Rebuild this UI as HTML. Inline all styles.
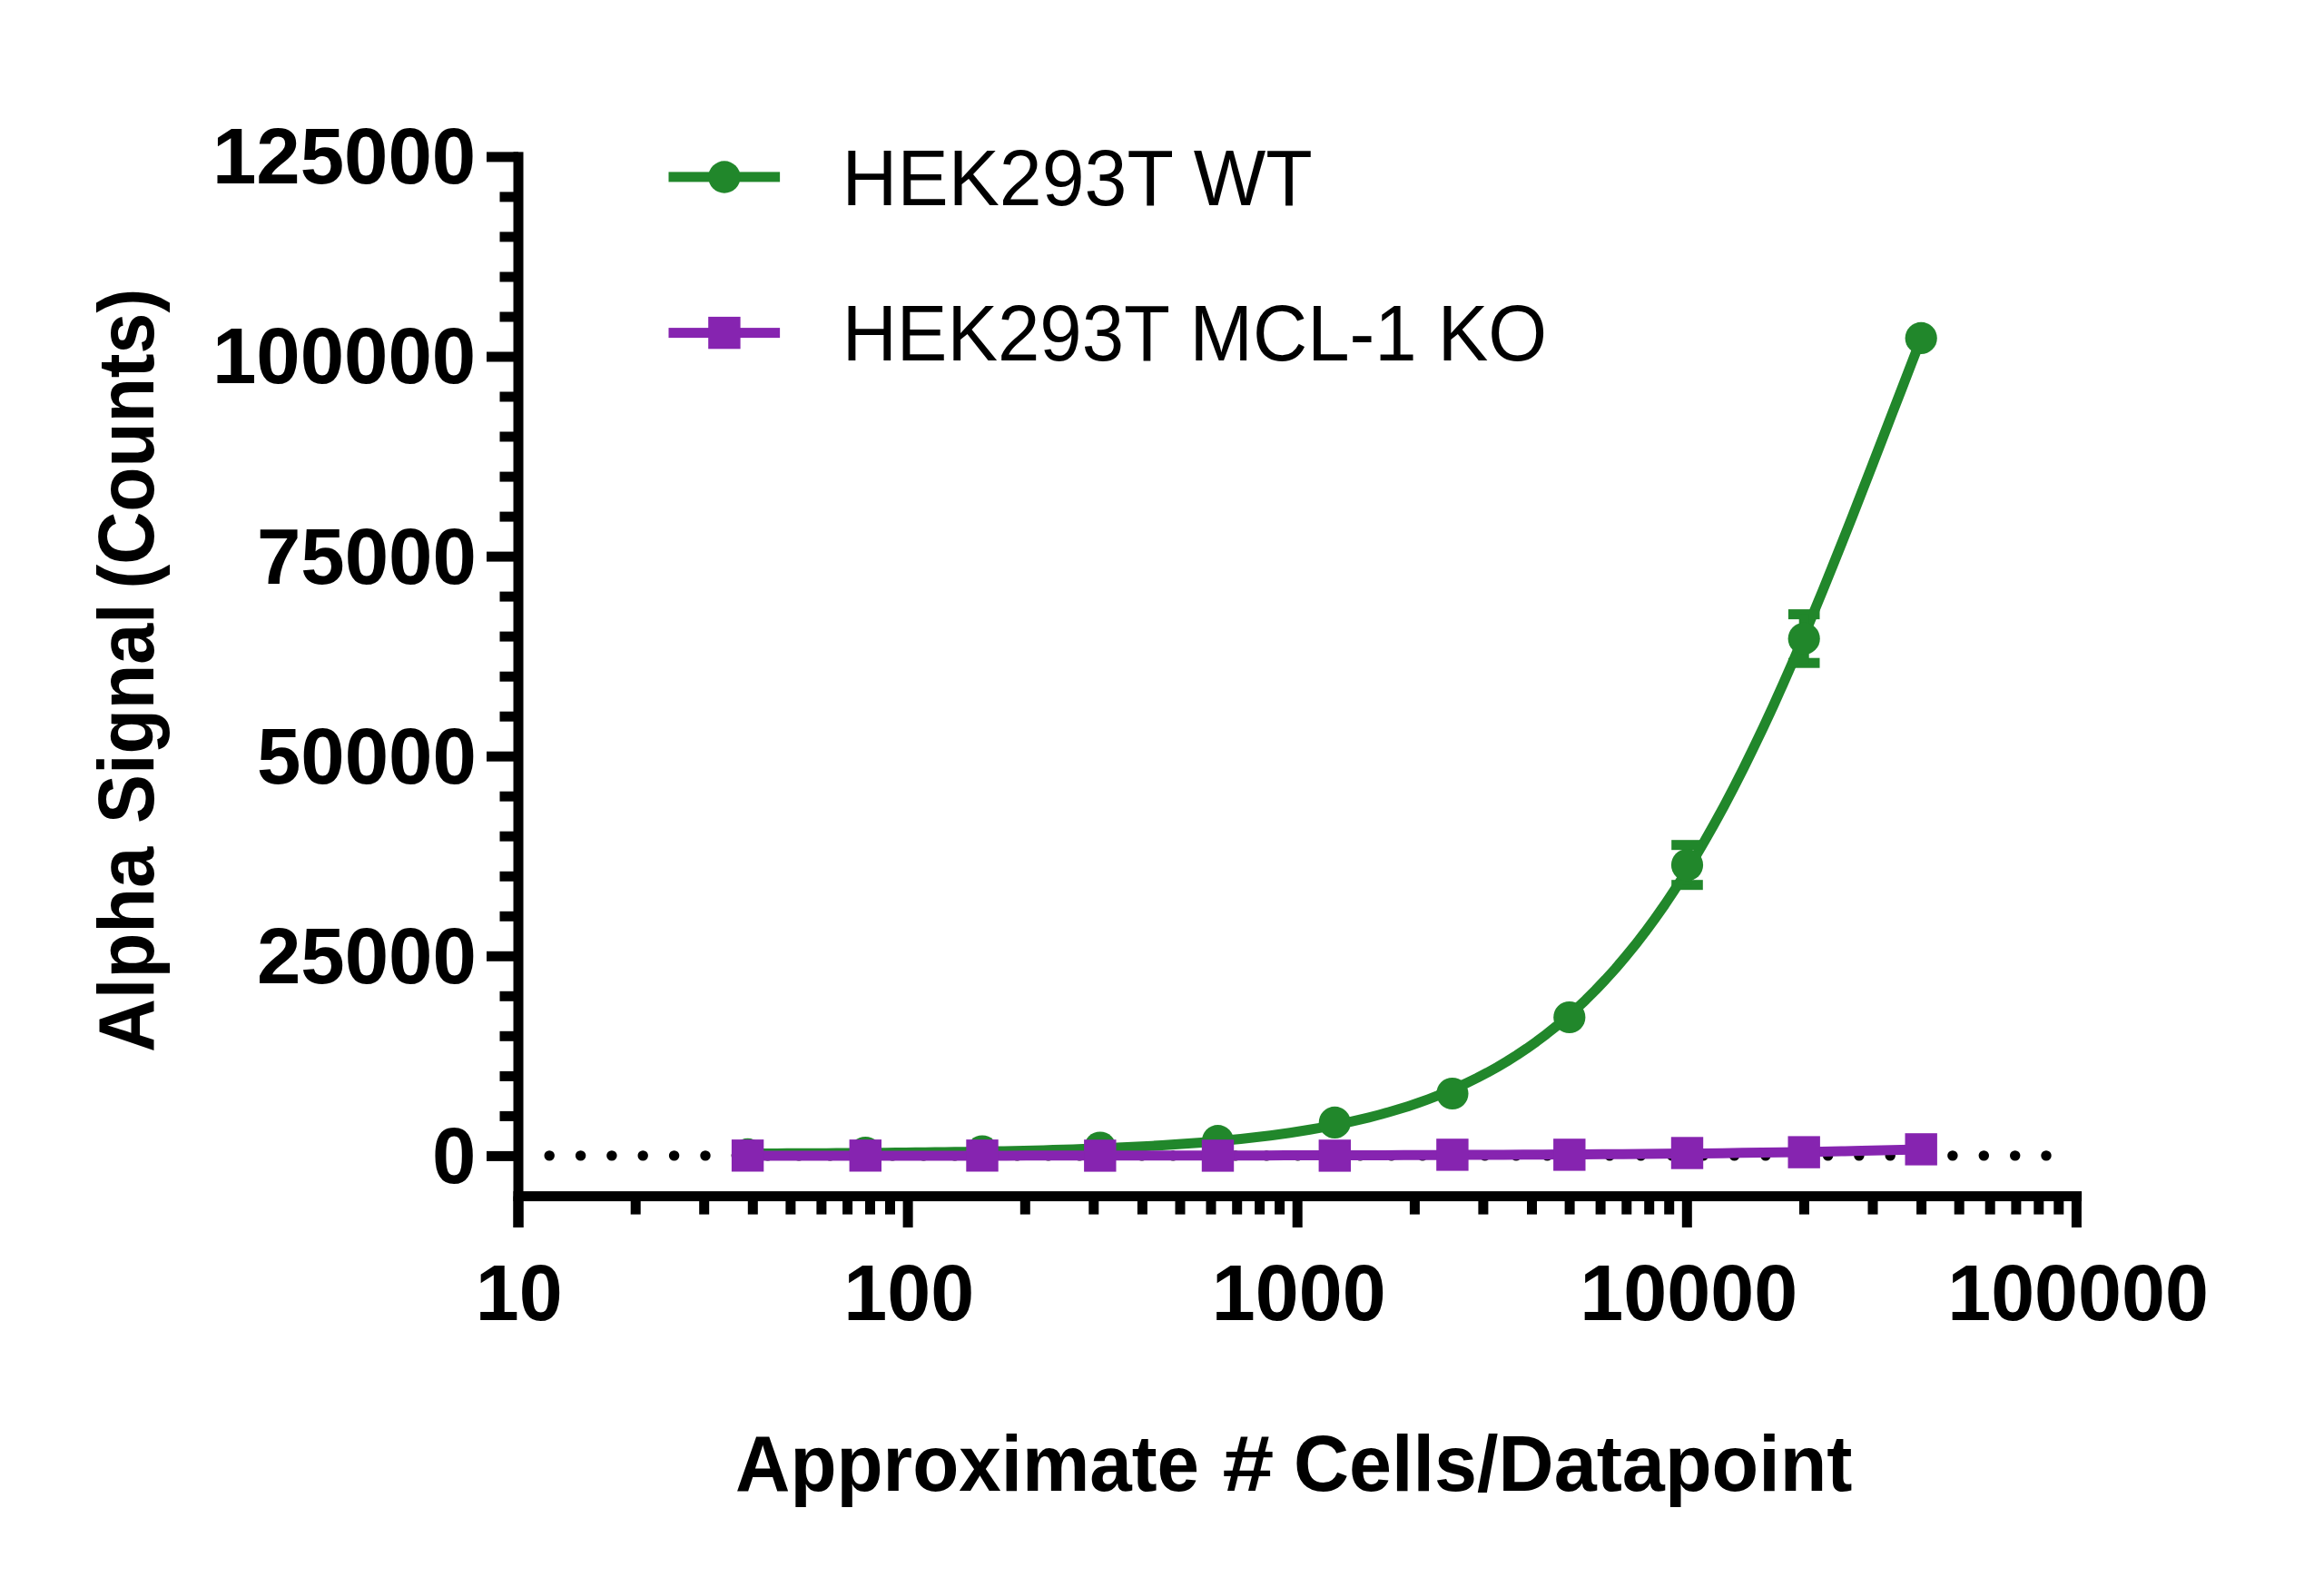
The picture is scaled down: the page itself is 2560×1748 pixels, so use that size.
<!DOCTYPE html>
<html lang="en"><head><meta charset="utf-8"><title>Alpha Signal vs Cells/Datapoint</title>
<style>html,body{margin:0;padding:0;background:#fff}body{width:2560px;height:1748px;overflow:hidden}svg{display:block}text{font-family:"Liberation Sans",Arial,Helvetica,sans-serif;fill:#000}.tk{font-weight:700;font-size:87px}.lg{font-size:88px}.ti{font-weight:700;font-size:87px}</style></head><body>
<svg width="2560" height="1748" viewBox="0 0 2560 1748">
<rect width="2560" height="1748" fill="#fff"/>
<g fill="#000">
<circle cx="605.2" cy="1272.9" r="5.7"/>
<circle cx="639.6" cy="1272.9" r="5.7"/>
<circle cx="673.9" cy="1272.9" r="5.7"/>
<circle cx="708.2" cy="1272.9" r="5.7"/>
<circle cx="742.6" cy="1272.9" r="5.7"/>
<circle cx="777.0" cy="1272.9" r="5.7"/>
<circle cx="811.3" cy="1272.9" r="5.7"/>
<circle cx="845.7" cy="1272.9" r="5.7"/>
<circle cx="880.0" cy="1272.9" r="5.7"/>
<circle cx="914.4" cy="1272.9" r="5.7"/>
<circle cx="948.7" cy="1272.9" r="5.7"/>
<circle cx="983.1" cy="1272.9" r="5.7"/>
<circle cx="1017.4" cy="1272.9" r="5.7"/>
<circle cx="1051.8" cy="1272.9" r="5.7"/>
<circle cx="1086.1" cy="1272.9" r="5.7"/>
<circle cx="1120.5" cy="1272.9" r="5.7"/>
<circle cx="1154.8" cy="1272.9" r="5.7"/>
<circle cx="1189.2" cy="1272.9" r="5.7"/>
<circle cx="1223.5" cy="1272.9" r="5.7"/>
<circle cx="1257.8" cy="1272.9" r="5.7"/>
<circle cx="1292.2" cy="1272.9" r="5.7"/>
<circle cx="1326.6" cy="1272.9" r="5.7"/>
<circle cx="1360.9" cy="1272.9" r="5.7"/>
<circle cx="1395.2" cy="1272.9" r="5.7"/>
<circle cx="1429.6" cy="1272.9" r="5.7"/>
<circle cx="1464.0" cy="1272.9" r="5.7"/>
<circle cx="1498.3" cy="1272.9" r="5.7"/>
<circle cx="1532.7" cy="1272.9" r="5.7"/>
<circle cx="1567.0" cy="1272.9" r="5.7"/>
<circle cx="1601.4" cy="1272.9" r="5.7"/>
<circle cx="1635.7" cy="1272.9" r="5.7"/>
<circle cx="1670.1" cy="1272.9" r="5.7"/>
<circle cx="1704.4" cy="1272.9" r="5.7"/>
<circle cx="1738.8" cy="1272.9" r="5.7"/>
<circle cx="1773.1" cy="1272.9" r="5.7"/>
<circle cx="1807.5" cy="1272.9" r="5.7"/>
<circle cx="1841.8" cy="1272.9" r="5.7"/>
<circle cx="1876.2" cy="1272.9" r="5.7"/>
<circle cx="1910.5" cy="1272.9" r="5.7"/>
<circle cx="1944.9" cy="1272.9" r="5.7"/>
<circle cx="1979.2" cy="1272.9" r="5.7"/>
<circle cx="2013.6" cy="1272.9" r="5.7"/>
<circle cx="2047.9" cy="1272.9" r="5.7"/>
<circle cx="2082.2" cy="1272.9" r="5.7"/>
<circle cx="2116.6" cy="1272.9" r="5.7"/>
<circle cx="2150.9" cy="1272.9" r="5.7"/>
<circle cx="2185.3" cy="1272.9" r="5.7"/>
<circle cx="2219.7" cy="1272.9" r="5.7"/>
<circle cx="2254.0" cy="1272.9" r="5.7"/>
</g>
<g fill="#000">
<rect x="565.5" y="167.4" width="11.0" height="1184.6"/>
<rect x="565.5" y="1312.1" width="1727.6" height="11.0"/>
<rect x="536" y="1267.9" width="35.0" height="11.0"/>
<rect x="550.5" y="1223.9" width="20.5" height="11.0"/>
<rect x="550.5" y="1179.9" width="20.5" height="11.0"/>
<rect x="550.5" y="1135.8" width="20.5" height="11.0"/>
<rect x="550.5" y="1091.8" width="20.5" height="11.0"/>
<rect x="536" y="1047.8" width="35.0" height="11.0"/>
<rect x="550.5" y="1003.8" width="20.5" height="11.0"/>
<rect x="550.5" y="959.8" width="20.5" height="11.0"/>
<rect x="550.5" y="915.7" width="20.5" height="11.0"/>
<rect x="550.5" y="871.7" width="20.5" height="11.0"/>
<rect x="536" y="827.7" width="35.0" height="11.0"/>
<rect x="550.5" y="783.7" width="20.5" height="11.0"/>
<rect x="550.5" y="739.7" width="20.5" height="11.0"/>
<rect x="550.5" y="695.6" width="20.5" height="11.0"/>
<rect x="550.5" y="651.6" width="20.5" height="11.0"/>
<rect x="536" y="607.6" width="35.0" height="11.0"/>
<rect x="550.5" y="563.6" width="20.5" height="11.0"/>
<rect x="550.5" y="519.6" width="20.5" height="11.0"/>
<rect x="550.5" y="475.5" width="20.5" height="11.0"/>
<rect x="550.5" y="431.5" width="20.5" height="11.0"/>
<rect x="536" y="387.5" width="35.0" height="11.0"/>
<rect x="550.5" y="343.5" width="20.5" height="11.0"/>
<rect x="550.5" y="299.5" width="20.5" height="11.0"/>
<rect x="550.5" y="255.4" width="20.5" height="11.0"/>
<rect x="550.5" y="211.4" width="20.5" height="11.0"/>
<rect x="536" y="167.4" width="35.0" height="11.0"/>
<rect x="565.5" y="1317.6" width="11.0" height="34.4"/>
<rect x="694.7" y="1317.6" width="11.0" height="20.0"/>
<rect x="770.2" y="1317.6" width="11.0" height="20.0"/>
<rect x="823.8" y="1317.6" width="11.0" height="20.0"/>
<rect x="865.4" y="1317.6" width="11.0" height="20.0"/>
<rect x="899.4" y="1317.6" width="11.0" height="20.0"/>
<rect x="928.1" y="1317.6" width="11.0" height="20.0"/>
<rect x="953.0" y="1317.6" width="11.0" height="20.0"/>
<rect x="975.0" y="1317.6" width="11.0" height="20.0"/>
<rect x="994.6" y="1317.6" width="11.0" height="34.4"/>
<rect x="1123.8" y="1317.6" width="11.0" height="20.0"/>
<rect x="1199.3" y="1317.6" width="11.0" height="20.0"/>
<rect x="1252.9" y="1317.6" width="11.0" height="20.0"/>
<rect x="1294.5" y="1317.6" width="11.0" height="20.0"/>
<rect x="1328.5" y="1317.6" width="11.0" height="20.0"/>
<rect x="1357.2" y="1317.6" width="11.0" height="20.0"/>
<rect x="1382.1" y="1317.6" width="11.0" height="20.0"/>
<rect x="1404.1" y="1317.6" width="11.0" height="20.0"/>
<rect x="1423.7" y="1317.6" width="11.0" height="34.4"/>
<rect x="1552.9" y="1317.6" width="11.0" height="20.0"/>
<rect x="1628.4" y="1317.6" width="11.0" height="20.0"/>
<rect x="1682.0" y="1317.6" width="11.0" height="20.0"/>
<rect x="1723.6" y="1317.6" width="11.0" height="20.0"/>
<rect x="1757.6" y="1317.6" width="11.0" height="20.0"/>
<rect x="1786.3" y="1317.6" width="11.0" height="20.0"/>
<rect x="1811.2" y="1317.6" width="11.0" height="20.0"/>
<rect x="1833.2" y="1317.6" width="11.0" height="20.0"/>
<rect x="1852.8" y="1317.6" width="11.0" height="34.4"/>
<rect x="1982.0" y="1317.6" width="11.0" height="20.0"/>
<rect x="2057.5" y="1317.6" width="11.0" height="20.0"/>
<rect x="2111.1" y="1317.6" width="11.0" height="20.0"/>
<rect x="2152.7" y="1317.6" width="11.0" height="20.0"/>
<rect x="2186.7" y="1317.6" width="11.0" height="20.0"/>
<rect x="2215.4" y="1317.6" width="11.0" height="20.0"/>
<rect x="2240.3" y="1317.6" width="11.0" height="20.0"/>
<rect x="2262.3" y="1317.6" width="11.0" height="20.0"/>
<rect x="2281.9" y="1317.6" width="11.0" height="34.4"/>
</g>
<text class="tk" x="475.9" y="1302.8" textLength="48.4" lengthAdjust="spacingAndGlyphs">0</text>
<text class="tk" x="282.9" y="1082.7" textLength="241.9" lengthAdjust="spacingAndGlyphs">25000</text>
<text class="tk" x="282.9" y="862.6" textLength="241.9" lengthAdjust="spacingAndGlyphs">50000</text>
<text class="tk" x="282.9" y="642.5" textLength="241.9" lengthAdjust="spacingAndGlyphs">75000</text>
<text class="tk" x="233.9" y="422.4" textLength="290.3" lengthAdjust="spacingAndGlyphs">100000</text>
<text class="tk" x="233.9" y="202.3" textLength="290.3" lengthAdjust="spacingAndGlyphs">125000</text>
<text class="tk" x="523.8" y="1454.3" textLength="95.9" lengthAdjust="spacingAndGlyphs">10</text>
<text class="tk" x="929.3" y="1454.3" textLength="143.9" lengthAdjust="spacingAndGlyphs">100</text>
<text class="tk" x="1334.8" y="1454.3" textLength="191.8" lengthAdjust="spacingAndGlyphs">1000</text>
<text class="tk" x="1740.3" y="1454.3" textLength="239.8" lengthAdjust="spacingAndGlyphs">10000</text>
<text class="tk" x="2145.2" y="1454.3" textLength="287.7" lengthAdjust="spacingAndGlyphs">100000</text>
<text class="lg" x="927.6" y="225.5" textLength="518.2" lengthAdjust="spacingAndGlyphs">HEK293T WT</text>
<text class="lg" x="927.7" y="397.3" textLength="776.5" lengthAdjust="spacingAndGlyphs">HEK293T MCL-1 KO</text>
<text class="tk" x="810.1" y="1641.5" textLength="511.0" lengthAdjust="spacingAndGlyphs">Approximate</text>
<text class="tk" x="1346.6" y="1641.5" textLength="56.8" lengthAdjust="spacingAndGlyphs">#</text>
<text class="tk" x="1425.0" y="1641.5" textLength="615.5" lengthAdjust="spacingAndGlyphs">Cells/Datapoint</text>
<g transform="translate(169.3,1156.2) rotate(-90)">
<text class="tk" x="-2.8" y="0.0" textLength="226.4" lengthAdjust="spacingAndGlyphs">Alpha</text>
<text class="tk" x="249.2" y="0.0" textLength="242.6" lengthAdjust="spacingAndGlyphs">Signal</text>
<text class="tk" x="507.6" y="0.0" textLength="330.8" lengthAdjust="spacingAndGlyphs">(Counts)</text>
</g>
<g fill="#21872b" stroke="none">
<path d="M823.6,1270.52 L834.5,1270.49 L845.3,1270.45 L856.2,1270.40 L867.0,1270.36 L877.9,1270.31 L888.8,1270.25 L899.6,1270.20 L910.5,1270.14 L921.4,1270.07 L932.2,1270.00 L943.1,1269.93 L953.9,1269.85 L964.8,1269.76 L975.7,1269.67 L986.5,1269.57 L997.4,1269.46 L1008.3,1269.35 L1019.1,1269.23 L1030.0,1269.10 L1040.8,1268.96 L1051.7,1268.81 L1062.6,1268.65 L1073.4,1268.48 L1084.3,1268.29 L1095.2,1268.10 L1106.0,1267.88 L1116.9,1267.66 L1127.7,1267.41 L1138.6,1267.15 L1149.5,1266.88 L1160.3,1266.58 L1171.2,1266.26 L1182.1,1265.91 L1192.9,1265.55 L1203.8,1265.15 L1214.6,1264.73 L1225.5,1264.28 L1236.4,1263.80 L1247.2,1263.28 L1258.1,1262.72 L1268.9,1262.13 L1279.8,1261.49 L1290.7,1260.81 L1301.5,1260.08 L1312.4,1259.30 L1323.3,1258.46 L1334.1,1257.57 L1345.0,1256.61 L1355.8,1255.58 L1366.7,1254.48 L1377.6,1253.30 L1388.4,1252.04 L1399.3,1250.70 L1410.2,1249.26 L1421.0,1247.71 L1431.9,1246.06 L1442.7,1244.30 L1453.6,1242.41 L1464.5,1240.39 L1475.3,1238.24 L1486.2,1235.93 L1497.1,1233.47 L1507.9,1230.83 L1518.8,1228.02 L1529.6,1225.02 L1540.5,1221.81 L1551.4,1218.39 L1562.2,1214.74 L1573.1,1210.85 L1584.0,1206.69 L1594.8,1202.27 L1605.7,1197.55 L1616.5,1192.53 L1627.4,1187.18 L1638.3,1181.49 L1649.1,1175.43 L1660.0,1168.99 L1670.9,1162.16 L1681.7,1154.89 L1692.6,1147.19 L1703.4,1139.01 L1714.3,1130.35 L1725.2,1121.17 L1736.0,1111.47 L1746.9,1101.20 L1757.7,1090.36 L1768.6,1078.91 L1779.5,1066.85 L1790.3,1054.14 L1801.2,1040.76 L1812.1,1026.71 L1822.9,1011.96 L1833.8,996.49 L1844.6,980.29 L1855.5,963.36 L1866.4,945.68 L1877.2,927.26 L1888.1,908.08 L1899.0,888.14 L1909.8,867.47 L1920.7,846.06 L1931.5,823.93 L1942.4,801.09 L1953.3,777.58 L1964.1,753.42 L1975.0,728.64 L1985.9,703.29 L1996.7,677.40 L2007.6,651.02 L2018.4,624.20 L2029.3,597.00 L2040.2,569.47 L2051.0,541.69 L2061.9,513.70 L2072.8,485.58 L2083.6,457.40 L2094.5,429.21 L2105.3,401.10 L2116.2,373.12" fill="none" stroke="#21872b" stroke-width="11" stroke-linejoin="round"/>
<rect x="1969.9" y="671.1" width="34.6" height="11"/>
<rect x="1969.9" y="724.7" width="34.6" height="11"/>
<rect x="1981.7" y="676.6" width="11" height="53.6"/>
<rect x="1841.2" y="925.2" width="34.6" height="11"/>
<rect x="1841.2" y="969.2" width="34.6" height="11"/>
<rect x="1853.0" y="930.7" width="11" height="44.0"/>
<circle cx="2116.2" cy="372.4" r="17.6"/>
<circle cx="1987.2" cy="703.4" r="17.6"/>
<circle cx="1858.5" cy="952.7" r="17.6"/>
<circle cx="1728.8" cy="1120.5" r="17.6"/>
<circle cx="1599.9" cy="1204.5" r="17.6"/>
<circle cx="1470.3" cy="1236.4" r="17.6"/>
<circle cx="1341.5" cy="1256.7" r="17.6"/>
<circle cx="1211.8" cy="1264.0" r="17.6"/>
<circle cx="1082.0" cy="1268.1" r="17.6"/>
<circle cx="953.3" cy="1269.5" r="17.6"/>
<circle cx="823.6" cy="1271.4" r="17.6"/>
</g>
<g fill="#8624b0" stroke="none">
<path d="M823.6,1272.96 L845.5,1272.96 L867.4,1272.95 L889.3,1272.95 L911.2,1272.94 L933.1,1272.94 L955.1,1272.94 L977.0,1272.93 L998.9,1272.92 L1020.8,1272.92 L1042.7,1272.91 L1064.6,1272.90 L1086.5,1272.89 L1108.4,1272.88 L1130.3,1272.87 L1152.2,1272.86 L1174.1,1272.85 L1196.0,1272.84 L1218.0,1272.82 L1239.9,1272.81 L1261.8,1272.79 L1283.7,1272.77 L1305.6,1272.75 L1327.5,1272.72 L1349.4,1272.70 L1371.3,1272.67 L1393.2,1272.64 L1415.1,1272.61 L1437.0,1272.57 L1458.9,1272.53 L1480.9,1272.48 L1502.8,1272.44 L1524.7,1272.38 L1546.6,1272.33 L1568.5,1272.26 L1590.4,1272.19 L1612.3,1272.12 L1634.2,1272.03 L1656.1,1271.94 L1678.0,1271.84 L1699.9,1271.73 L1721.8,1271.61 L1743.8,1271.48 L1765.7,1271.34 L1787.6,1271.18 L1809.5,1271.01 L1831.4,1270.82 L1853.3,1270.61 L1875.2,1270.39 L1897.1,1270.14 L1919.0,1269.87 L1940.9,1269.57 L1962.8,1269.25 L1984.7,1268.89 L2006.7,1268.50 L2028.6,1268.08 L2050.5,1267.61 L2072.4,1267.10 L2094.3,1266.54 L2116.2,1265.92" fill="none" stroke="#8624b0" stroke-width="11" stroke-linejoin="round"/>
<rect x="2098.5" y="1248.2" width="35.4" height="35.4"/>
<rect x="1969.5" y="1251.4" width="35.4" height="35.4"/>
<rect x="1840.8" y="1252.3" width="35.4" height="35.4"/>
<rect x="1711.1" y="1254.2" width="35.4" height="35.4"/>
<rect x="1582.2" y="1254.2" width="35.4" height="35.4"/>
<rect x="1452.6" y="1255.2" width="35.4" height="35.4"/>
<rect x="1323.8" y="1255.2" width="35.4" height="35.4"/>
<rect x="1194.1" y="1255.2" width="35.4" height="35.4"/>
<rect x="1064.3" y="1255.1" width="35.4" height="35.4"/>
<rect x="935.6" y="1255.1" width="35.4" height="35.4"/>
<rect x="805.9" y="1255.1" width="35.4" height="35.4"/>
</g>
<rect x="736.5" y="189.4" width="122.6" height="11" fill="#21872b"/>
<circle cx="797.9" cy="195" r="17.7" fill="#21872b"/>
<rect x="736.5" y="361.1" width="122.6" height="11" fill="#8624b0"/>
<rect x="780.2" y="348.9" width="35.4" height="35.4" fill="#8624b0"/>
</svg></body></html>
